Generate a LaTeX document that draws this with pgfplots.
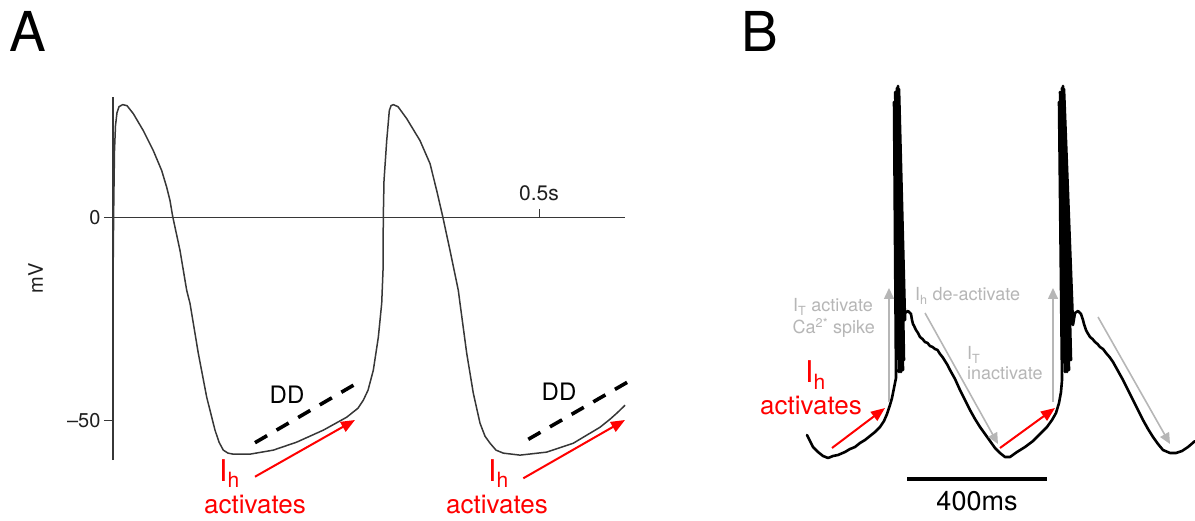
\documentclass[border=0pt]{standalone}
\usepackage{pgfplots}
\pgfplotsset{compat=1.18}
\usepackage{fontspec}
\setmainfont{TeX Gyre Heros}
\usetikzlibrary{arrows.meta}
\definecolor{trace}{RGB}{55,55,55}
\definecolor{lgray}{RGB}{182,182,182}
\definecolor{myred}{RGB}{255,0,0}
\newcommand\fs[1]{\fontsize{#1}{#1}\selectfont}

\begin{document}
\begin{tikzpicture}
\path[use as bounding box] (0,0) rectangle (1195pt,520pt);
% ---------------- Panel A ----------------
\begin{axis}[at={(113pt,60pt)}, anchor=south west, scale only axis,
  width=512pt, height=363pt,
  xmin=0, xmax=0.6005, ymin=-59.8, ymax=29.6,
  axis x line=none, axis y line=left,
  axis line style={-, line width=1.3pt, color=trace},
  ytick={-50,0}, yticklabels={–50,0}, tick align=outside, major tick length=9pt,
  y tick style={line width=1.3pt, color=trace},
  yticklabel style={font=\fs{20}, text=black!88},
  ylabel={mV},
  ylabel style={at={(axis description cs:-0.1367,0.5)}, anchor=south, inner sep=0pt,
    font=\fs{20}, text=black!88},
  clip=false]
\addplot[trace, line width=1.5pt, line join=round] coordinates {
(0,-18.8) (0.00035,-8.19) (0.00094,4.10) (0.00176,16.4) (0.00293,22.55)
(0.00469,25.75) (0.00704,27.22) (0.01138,27.72) (0.01642,27.47) (0.02381,25.5)
(0.03554,21.32) (0.04727,16.4) (0.05712,11.48) (0.06298,7.38) (0.06685,4.1)
(0.07002,0.17) (0.07858,-8.19) (0.08644,-18.02) (0.09031,-21.22) (0.10005,-33.52)
(0.10990,-44.34) (0.11964,-52.45) (0.12433,-55.4) (0.12937,-57.37) (0.13488,-58.11)
(0.14110,-58.36) (0.16069,-58.36) (0.18801,-57.37) (0.21546,-55.4) (0.24666,-52.45)
(0.27410,-49.26) (0.28736,-47.04) (0.29357,-45.08) (0.29909,-42.62) (0.30530,-37.7)
(0.31117,-29.59) (0.31515,-21.22) (0.31668,-13.1) (0.31703,0.17) (0.31785,9.02)
(0.32102,18.86) (0.32407,26.24) (0.32606,27.47) (0.32876,27.72) (0.33427,27.22)
(0.34448,24.27) (0.36008,18.86) (0.37180,13.2) (0.37966,6.56) (0.38670,0.17)
(0.39526,-8.19) (0.40500,-18.02) (0.40699,-21.22) (0.41485,-33.52) (0.42259,-43.36)
(0.43045,-50.74) (0.43631,-53.94) (0.44218,-55.66) (0.44921,-57.37) (0.45778,-58.11)
(0.47736,-58.6) (0.50868,-57.86) (0.53988,-55.66) (0.57120,-51.73) (0.58292,-49.76)
(0.59078,-48.29) (0.60052,-46.32)
};
% zero line and 0.5 s tick
\addplot[trace, line width=1.3pt] coordinates {(0,0) (0.6005,0)};
\addplot[trace, line width=1.3pt] coordinates {(0.5,0) (0.5,2.1)};
\end{axis}
% ---------------- Panel B ----------------
\begin{axis}[at={(800pt,50pt)}, anchor=south west, scale only axis,
  width=395pt, height=390pt, xmin=0, xmax=1128.57, ymin=0, ymax=390,
  hide axis, clip=false]
\addplot[black, line width=2.6pt, line join=round, line cap=round] coordinates {
(20.0,35) (28.6,29) (37.1,23) (51.4,18) (65.7,14) (80.0,12) (94.3,14) (108.6,15)
(128.6,18) (142.9,21) (157.1,23) (171.4,27) (185.7,30) (200.0,34) (214.3,38)
(228.6,43) (240.0,49) (248.6,56) (257.1,65) (262.9,72) (268.6,82) (274.3,92)
(268.6,368) (282.9,98) (272.0,378) (288.6,98) (277.1,382) (294.3,100) (280.0,384)
(297.1,110) (282.9,381) (300.0,150)
(300.0,157) (308.6,159) (317.1,156) (320.0,150) (322.9,146) (326.0,144) (331.4,140) (337.1,137) (342.9,133) (350.0,131) (357.1,128)
(364.3,127) (371.4,124) (378.6,123) (385.7,121) (392.9,120) (400.0,116) (407.1,113) (414.3,109) (421.4,105) (428.6,100) (442.9,91) (457.1,80)
(471.4,70) (485.7,60) (500.0,51) (514.3,43) (528.6,36) (542.9,29) (557.1,22)
(571.4,17) (585.7,13) (600.0,13) (620.0,18) (642.9,23) (665.7,29) (685.7,36)
(705.7,43) (720.0,50) (731.4,57) (740.0,67) (745.7,78) (748.6,90)
(740.0,368) (757.1,98) (742.9,378) (762.9,98) (748.6,382) (768.6,100) (751.4,384)
(774.3,110) (754.3,381) (780.0,145)
(785.7,157) (794.3,159) (802.9,156) (808.6,150) (811.4,146) (817.1,140) (820.0,138) (828.6,133) (835.7,131) (842.9,128)
(850.0,126) (857.1,123) (865.7,121) (874.3,117) (884.3,113) (894.3,108) (908.6,99) (922.9,90) (937.1,80) (951.4,70)
(965.7,60) (980.0,50) (994.3,41) (1008.6,33) (1022.9,26) (1037.1,20) (1057.1,17)
(1074.3,17) (1091.4,19) (1108.6,23) (1128.6,29)
};
\end{axis}
% ---------------- Annotations (pixel frame) ----------------
\begin{scope}[yshift=520pt, x=1pt, y=-1pt]
\node[anchor=base west, inner sep=0, font=\fs{55}] at (9,52) {A};
\node[anchor=base west, inner sep=0, font=\fs{55}] at (741,52) {B};
\node[anchor=base, inner sep=0, font=\fs{21}, text=black!88] at (539,200.7) {0.5s};
% DD lines
\draw[black, line width=3.6pt, dash pattern=on 14pt off 11pt] (255,442.7) -- (356.7,383.3);
\draw[black, line width=3.6pt, dash pattern=on 14pt off 11pt] (528.3,439.3) -- (630,380.7);
\node[font=\fs{24}] at (287,395) {DD};
\node[font=\fs{24}] at (559,392) {DD};
% red arrows panel A
\draw[myred, line width=2pt, -{Triangle[length=14pt,width=11pt]}] (255,476.7) -- (355,420);
\draw[myred, line width=2pt, -{Triangle[length=14pt,width=11pt]}] (523.3,478.3) -- (625,420);
\node[myred, anchor=base west, inner sep=0, font=\fs{30}] at (219,481) {I\textsubscript{h}};
\node[myred, anchor=base, inner sep=0, font=\fs{26}] at (255,513) {activates};
\node[myred, anchor=base west, inner sep=0, font=\fs{30}] at (488,481) {I\textsubscript{h}};
\node[myred, anchor=base, inner sep=0, font=\fs{26}] at (497,513) {activates};
% panel B arrows
\draw[lgray, line width=1.6pt, -{Triangle[length=11pt,width=10pt]}] (889,402) -- (889,288);
\draw[lgray, line width=1.6pt, -{Triangle[length=11pt,width=10pt]}] (1053,402) -- (1053,288);
\draw[lgray, line width=1.6pt, -{Triangle[length=11pt,width=10pt]}] (925,313) -- (998,444);
\draw[lgray, line width=1.6pt, -{Triangle[length=11pt,width=10pt]}] (1098,317) -- (1170,444);
\draw[myred, line width=2pt, -{Triangle[length=14pt,width=11pt]}] (832,448) -- (885,408);
\draw[myred, line width=2pt, -{Triangle[length=14pt,width=11pt]}] (1000,448) -- (1055,408);
% panel B texts
\node[lgray, anchor=base east, inner sep=0, font=\fs{18}] at (873,312) {I\textsubscript{T} activate};
\node[lgray, anchor=base east, inner sep=0, font=\fs{18}] at (875,334) {Ca\textsuperscript{2*} spike};
\node[lgray, anchor=base west, inner sep=0, font=\fs{18}] at (915,301) {I\textsubscript{h} de-activate};
\node[lgray, anchor=base west, inner sep=0, font=\fs{18}] at (967,360) {I\textsubscript{T}};
\node[lgray, anchor=base west, inner sep=0, font=\fs{18}] at (967,380) {inactivate};
\node[myred, anchor=base west, inner sep=0, font=\fs{30}] at (805,383) {I\textsubscript{h}};
\node[myred, anchor=base, inner sep=0, font=\fs{26}] at (811,414) {activates};
% scale bar
\draw[black, line width=4pt] (907,479) -- (1047,479);
\node[anchor=base, inner sep=0, font=\fs{27}] at (977,510) {400ms};
\end{scope}
\end{tikzpicture}
\end{document}
